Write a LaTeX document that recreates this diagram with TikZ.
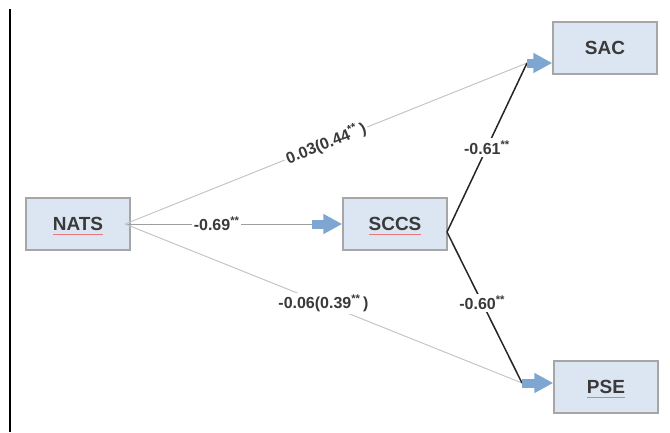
\documentclass[tikz,border=0pt]{standalone}
\usepackage{fontspec}
\setmainfont{Liberation Sans}
\usetikzlibrary{arrows.meta}

\definecolor{boite}{HTML}{DCE6F2}
\definecolor{bord}{HTML}{A6A6A6}
\definecolor{texte}{HTML}{3A3A3A}
\definecolor{fleche}{HTML}{7FA6D0}
\definecolor{souligne}{HTML}{E8787C}

\tikzset{
  var/.style={draw=bord, fill=boite, line width=1.5pt, minimum width=104pt, minimum height=52pt,
    text=texte, font=\fontsize{19}{22}\selectfont\bfseries},
  coef/.style={fill=white, inner sep=2pt, text=texte, font=\fontsize{16}{19}\selectfont\bfseries},
  bleue/.style={draw=fleche, line width=9pt, -{Triangle[length=19pt,width=19pt]}},
  faute/.style={draw=souligne, line width=1pt},
}

\begin{document}
\begin{tikzpicture}[x=1pt,y=-1pt]
\useasboundingbox (0,0) rectangle (670,432);

% Trait vertical
\draw[line width=1.5pt] (10,9) -- (10,432);

% Boîtes
\node[var] (nats) at (78,224) {NATS};
\node[var] (sccs) at (395,224) {SCCS};
\node[var] (sac) at (605,48) {SAC};
\node[var] (pse) at (606,387) {PSE};

% Soulignements rouges
\draw[faute] (nats.base) ++(-25,4) -- ++(50,0);
\draw[faute] (sccs.base) ++(-26,4) -- ++(52,0);
\draw[faute] (pse.base) ++(-19,4) -- ++(38,0);

% Points de jonction
\coordinate (dep) at (125,224);
\coordinate (v) at (447,232);
\coordinate (jsac) at (527,63);
\coordinate (jpse) at (522,383);
\coordinate (jsccs) at (312,224);

% Traits gris
\draw[gray!75, line width=1pt] (dep) -- node[coef, pos=0.49] {-0.69\textsuperscript{**}} (jsccs);
\draw[gray!45, line width=1pt] (dep) -- node[coef, sloped, pos=0.5] {0.03(0.44\textsuperscript{**}\,)} (jsac);
\draw[gray!45, line width=1pt] (dep) -- node[coef, pos=0.5] {-0.06(0.39\textsuperscript{**}\,)} (jpse);

% Traits noirs
\draw[black!85, line width=1.5pt] (v) -- node[coef, pos=0.5] {-0.61\textsuperscript{**}} (jsac);
\draw[black!85, line width=1.5pt] (v) -- node[coef, pos=0.47] {-0.60\textsuperscript{**}} (jpse);

% Flèches bleues
\draw[bleue] (jsccs) -- (sccs.west);
\draw[bleue] (jsac) -- (sac.west |- jsac);
\draw[bleue] (jpse) -- (pse.west |- jpse);

\end{tikzpicture}
\end{document}
